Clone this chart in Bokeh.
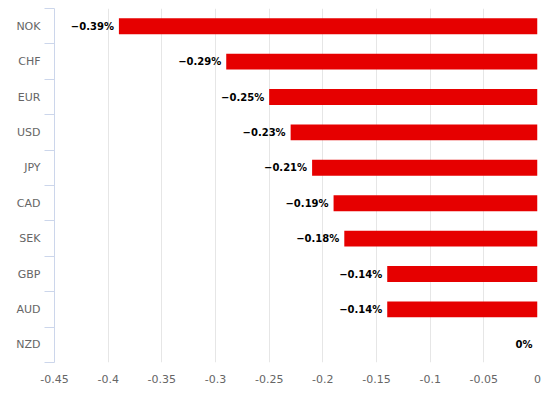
from bokeh.plotting import figure
from bokeh.models import Range1d, FixedTicker, ColumnDataSource
from bokeh.embed import file_html
from bokeh.resources import INLINE
from bokeh.core.properties import value

categories = ["NOK", "CHF", "EUR", "USD", "JPY", "CAD", "SEK", "GBP", "AUD", "NZD"]
values = [-0.39, -0.29, -0.25, -0.23, -0.21, -0.19, -0.18, -0.14, -0.14, 0.0]
x_ticks = [-0.45, -0.4, -0.35, -0.3, -0.25, -0.2, -0.15, -0.1, -0.05, 0.0]
x_tick_labels = ["-0.45", "-0.4", "-0.35", "-0.3", "-0.25", "-0.2", "-0.15", "-0.1", "-0.05", "0"]

n = len(categories)
ypos = [n - 0.5 - i for i in range(n)]
labels = [("\u2212" + f"{abs(v):.2f}%") if v < 0 else "0%" for v in values]

src = ColumnDataSource(dict(y=ypos, v=values, lab=labels, zero=[0.0] * n))

p = figure(width=547, height=393, output_backend="svg", toolbar_location=None,
           x_range=Range1d(-0.45, 0), y_range=Range1d(0, n),
           min_border_left=54, min_border_right=10, min_border_top=8, min_border_bottom=31)
p.outline_line_color = None
p.background_fill_color = "white"

p.hbar(y="y", left="v", right="zero", height=0.45, source=src,
       fill_color="#e60000", line_color=None)

p.text(x="v", y="y", text="lab", source=src, x_offset=-5, text_align="right",
       text_baseline="middle", text_font=value("DejaVu Sans"), text_font_size="10px",
       text_font_style="bold", text_color="black")

# x axis
p.xaxis.ticker = FixedTicker(ticks=x_ticks)
p.xaxis.major_label_overrides = {t: l for t, l in zip(x_ticks, x_tick_labels)}
p.xaxis.axis_line_color = None
p.xaxis.major_tick_line_color = None
p.xaxis.minor_tick_line_color = None
p.xaxis.major_label_text_color = "#666666"
p.xaxis.major_label_text_font = "DejaVu Sans"
p.xaxis.major_label_text_font_size = "11px"
p.xaxis.major_label_standoff = 6

p.xgrid.ticker = FixedTicker(ticks=x_ticks)
p.xgrid.grid_line_color = "#e6e6e6"
p.ygrid.grid_line_color = None

# y axis
boundaries = [float(i) for i in range(n + 1)]
p.yaxis.ticker = FixedTicker(ticks=ypos, minor_ticks=boundaries)
p.yaxis.major_label_overrides = {y: c for y, c in zip(ypos, categories)}
p.yaxis.axis_line_color = "#ccd6eb"
p.yaxis.major_tick_line_color = None
p.yaxis.major_tick_out = 0
p.yaxis.major_tick_in = 0
p.yaxis.minor_tick_line_color = "#ccd6eb"
p.yaxis.minor_tick_out = 10
p.yaxis.minor_tick_in = 0
p.yaxis.major_label_text_color = "#666666"
p.yaxis.major_label_text_font = "DejaVu Sans"
p.yaxis.major_label_text_font_size = "11px"
p.yaxis.major_label_standoff = 4

open("out.html", "w").write(file_html(p, INLINE))
